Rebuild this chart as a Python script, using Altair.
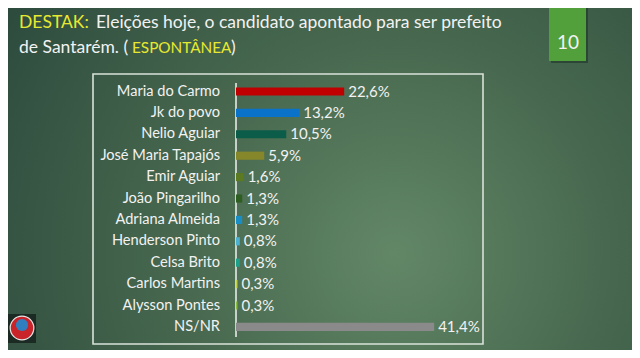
import altair as alt
import pandas as pd

names = ["Maria do Carmo", "Jk do povo", "Nelio Aguiar", "José Maria Tapajós",
         "Emir Aguiar", "João Pingarilho", "Adriana Almeida", "Henderson Pinto",
         "Celsa Brito", "Carlos Martins", "Alysson Pontes", "NS/NR"]
values = [22.6, 13.2, 10.5, 5.9, 1.6, 1.3, 1.3, 0.8, 0.8, 0.3, 0.3, 41.4]
labels = ["22,6%", "13,2%", "10,5%", "5,9%", "1,6%", "1,3%", "1,3%", "0,8%",
          "0,8%", "0,3%", "0,3%", "41,4%"]
colors = ["#c00000", "#0a72c8", "#0b5c48", "#86862a", "#5b7a22", "#2f5e22",
          "#1a8ec4", "#4db0cf", "#1fa08a", "#c6d24a", "#8abd40", "#8a8a8a"]

title_texts = ["DESTAK:", "Eleições hoje, o candidato apontado para ser prefeito",
               "de Santarém. (", "ESPONTÂNEA", ")"]
title_colors = ["#e8e830", "#f2f2f2", "#f2f2f2", "#e8e830", "#f2f2f2"]
title_x = [11, 88, 11, 124, 223]
title_y = [20, 20, 45, 45, 45]
title_size = [17.5, 17.5, 17.5, 15.3, 17.5]

df = pd.DataFrame({"name": names, "value": values, "label": labels})

FONT = "Lato"
W, H = 624, 342

xs = alt.Scale(domain=[0, 51.6], range=[228, 475])
ys = alt.Scale(domain=names, range=[72.8, 329.6], paddingInner=0.62, paddingOuter=0.31)
one = pd.DataFrame({"a": [0]})

bg = alt.Chart(one).mark_rect(
    fill=alt.Gradient(
        gradient="radial",
        stops=[alt.GradientStop(color="#628767", offset=0),
               alt.GradientStop(color="#48694f", offset=0.45),
               alt.GradientStop(color="#2c4a3d", offset=1)],
        x1=0.62, y1=0.62, r1=0, x2=0.62, y2=0.62, r2=0.75)
).encode(x=alt.value(0), x2=alt.value(W), y=alt.value(0), y2=alt.value(H))

frame = alt.Chart(one).mark_rect(
    fill="transparent", stroke="#d9e2d9", strokeWidth=1.6
).encode(x=alt.value(85), x2=alt.value(475), y=alt.value(66), y2=alt.value(336))

bars = alt.Chart(df).mark_bar().encode(
    x=alt.X("value:Q", scale=xs, axis=None),
    y=alt.Y("name:N", scale=ys, axis=None),
    color=alt.Color("name:N", scale=alt.Scale(domain=names, range=colors), legend=None),
)

vals = alt.Chart(df).mark_text(
    align="left", baseline="middle", dx=4, font=FONT, fontSize=15, color="#f2f2f2"
).encode(
    x=alt.X("value:Q", scale=xs, axis=None),
    y=alt.Y("name:N", scale=ys, axis=None),
    text="label:N",
)

names_txt = alt.Chart(df).mark_text(
    align="right", baseline="middle", font=FONT, fontSize=14.6, color="#f2f2f2"
).encode(
    x=alt.value(212),
    y=alt.Y("name:N", scale=ys, axis=None),
    text="name:N",
)

axis_line = alt.Chart(one).mark_rule(color="#f2f2f2", strokeWidth=1.5).encode(
    x=alt.value(228), y=alt.value(75), y2=alt.value(329)
)

title_layers = [
    alt.Chart(one).mark_text(
        text=t, align="left", baseline="alphabetic", font=FONT, fontSize=s, color=c
    ).encode(x=alt.value(px), y=alt.value(py))
    for t, c, px, py, s in zip(title_texts, title_colors, title_x, title_y, title_size)
]

box_shadow = alt.Chart(one).mark_rect(fill="#1e3328", opacity=0.6).encode(
    x=alt.value(543), x2=alt.value(580), y=alt.value(0), y2=alt.value(55))
box = alt.Chart(one).mark_rect(fill="#52a03c").encode(
    x=alt.value(541), x2=alt.value(578), y=alt.value(0), y2=alt.value(53))
box_txt = alt.Chart(one).mark_text(
    text="10", font=FONT, fontSize=19, color="#f2f2f2", align="center", baseline="alphabetic"
).encode(x=alt.value(560), y=alt.value(41))

logo_bg = alt.Chart(one).mark_rect(fill="#1c2a24").encode(
    x=alt.value(0), x2=alt.value(28), y=alt.value(306), y2=alt.value(335))
logo1 = alt.Chart(one).mark_point(
    filled=True, fill="#c8242a", size=560, stroke="#e8e8e8", strokeWidth=1.2, opacity=1
).encode(x=alt.value(14), y=alt.value(320))
logo2 = alt.Chart(one).mark_point(
    filled=True, fill="#2f7fc0", size=150, opacity=1
).encode(x=alt.value(14), y=alt.value(317))

chart = alt.layer(
    bg, frame, axis_line, bars, vals, names_txt, *title_layers,
    box_shadow, box, box_txt, logo_bg, logo1, logo2
).properties(
    width=W, height=H, padding=0, autosize=alt.AutoSizeParams(type="none")
).configure_view(stroke=None).configure(background="#2c4a3d")

chart.save("out.html", embed_options={"renderer": "svg", "actions": False})
